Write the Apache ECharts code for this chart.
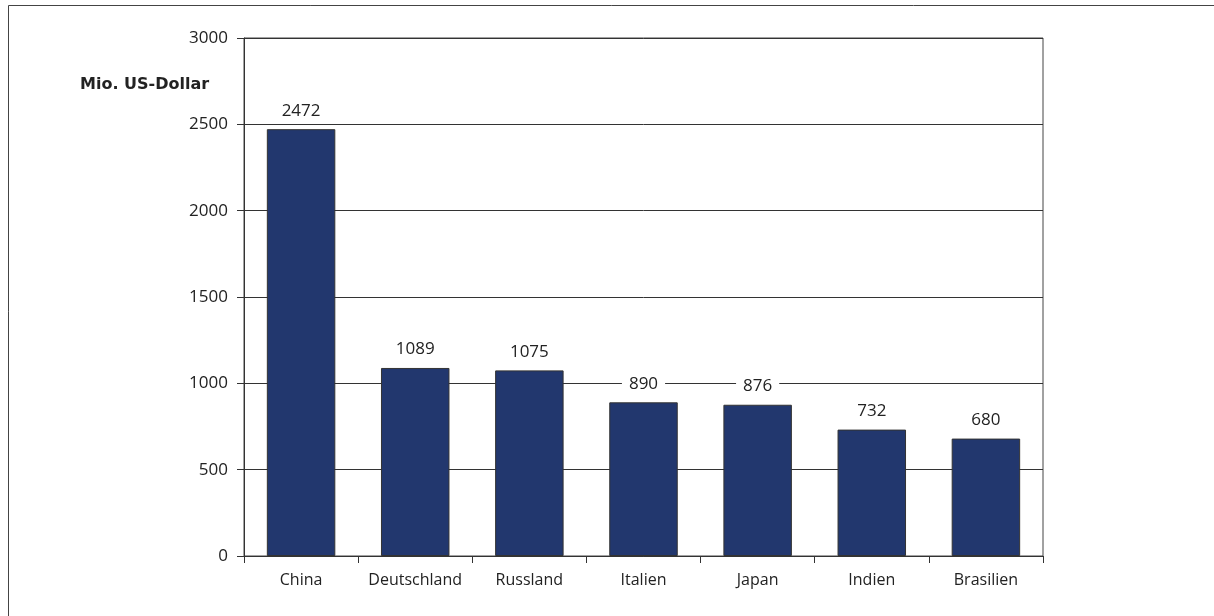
<!DOCTYPE html>
<html>
<head>
<meta charset="utf-8">
<script src="https://cdn.jsdelivr.net/npm/echarts@6/dist/echarts.min.js"></script>
<style>
    html, body { margin: 0; padding: 0; background: #fff; }
    #main { width: 1214px; height: 616px; }
</style>
</head>
<body>
<div id="main"></div>
<script>
    // Länder und Werte (Mio. US-Dollar)
    var laender = ['China', 'Deutschland', 'Russland', 'Italien', 'Japan', 'Indien', 'Brasilien'];
    var werte = [2472, 1089, 1075, 890, 876, 732, 680];
    var einheit = 'Mio. US-Dollar';

    var schrift = '"Open Sans", Lato, sans-serif';
    var myChart = echarts.init(document.getElementById('main'));

    myChart.setOption({
        backgroundColor: '#fff',
        animation: false,
        textStyle: { fontFamily: schrift },
        title: {
            text: einheit,
            left: 75,
            top: 72,
            textStyle: { fontSize: 16, fontWeight: 'bold', color: '#222', fontFamily: '"DejaVu Sans", sans-serif' }
        },
        graphic: [{
            // Rahmen um das ganze Bild
            type: 'rect',
            shape: { x: 8.5, y: 5.5, width: 1300, height: 700 },
            style: { fill: 'none', stroke: '#444', lineWidth: 1 },
            silent: true
        }],
        grid: {
            left: 244,
            right: 171,
            top: 38,
            bottom: 60,
            show: true,
            borderColor: '#444',
            borderWidth: 1
        },
        xAxis: {
            type: 'category',
            data: laender,
            axisLine: { lineStyle: { color: '#333' } },
            axisTick: { show: true, length: 7, interval: 0, lineStyle: { color: '#333' } },
            axisLabel: { fontSize: 16, color: '#222', margin: 16, interval: 0 }
        },
        yAxis: {
            type: 'value',
            min: 0,
            max: 3000,
            interval: 500,
            axisLine: { show: true, lineStyle: { color: '#333' } },
            axisTick: { show: true, length: 7, lineStyle: { color: '#333' } },
            axisLabel: { fontSize: 17, color: '#222', margin: 16, formatter: function (v) { return String(v); } },
            splitLine: { lineStyle: { color: '#333', width: 1 } }
        },
        series: [{
            type: 'bar',
            data: werte,
            barCategoryGap: '40%',
            itemStyle: { color: '#22376e', borderColor: '#333', borderWidth: 1 },
            label: {
                show: true,
                position: 'top',
                distance: 9,
                fontSize: 17,
                color: '#222',
                backgroundColor: '#fff',
                padding: [1, 7]
            }
        }]
    });
</script>
</body>
</html>
